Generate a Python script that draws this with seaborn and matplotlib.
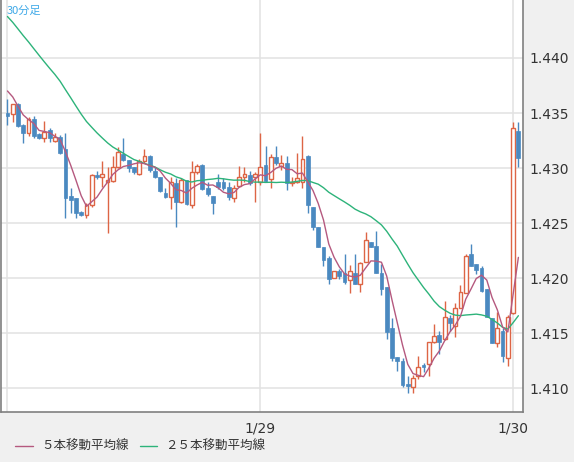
import numpy as np
import pandas as pd
import matplotlib
matplotlib.use("Agg")
import matplotlib.pyplot as plt
from matplotlib.lines import Line2D
import seaborn as sns

opens = [1.4350,1.4349,1.4358,1.4339,1.4332,1.4345,1.4331,1.4327,1.4335,1.4325,
         1.4328,1.4317,1.4275,1.4273,1.4260,1.4257,1.4266,1.4294,1.4292,1.4287,
         1.4288,1.4301,1.4313,1.4307,1.4301,1.4295,1.4306,1.4311,1.4297,1.4292,
         1.4277,1.4274,1.4286,1.4269,1.4289,1.4266,1.4296,1.4303,1.4282,1.4275,
         1.4287,1.4287,1.4283,1.4273,1.4284,1.4292,1.4294,1.4292,1.4287,1.4303,
         1.4290,1.4310,1.4302,1.4305,1.4286,1.4287,1.4287,1.4311,1.4265,1.4246,
         1.4228,1.4218,1.4200,1.4206,1.4205,1.4198,1.4205,1.4195,1.4215,1.4233,
         1.4229,1.4205,1.4192,1.4155,1.4128,1.4125,1.4104,1.4101,1.4111,1.4121,
         1.4122,1.4142,1.4148,1.4145,1.4164,1.4156,1.4173,1.4186,1.4222,1.4213,
         1.4209,1.4190,1.4164,1.4141,1.4152,1.4127,1.4168,1.4334]
highs = [1.4363,1.4358,1.4359,1.4340,1.4346,1.4347,1.4332,1.4343,1.4336,1.4332,
         1.4330,1.4332,1.4282,1.4273,1.4261,1.4268,1.4295,1.4297,1.4306,1.4301,
         1.4311,1.4319,1.4327,1.4307,1.4301,1.4308,1.4317,1.4312,1.4301,1.4292,
         1.4282,1.4292,1.4291,1.4291,1.4289,1.4306,1.4304,1.4304,1.4287,1.4275,
         1.4295,1.4291,1.4287,1.4285,1.4302,1.4301,1.4297,1.4296,1.4332,1.4320,
         1.4313,1.4320,1.4312,1.4311,1.4292,1.4314,1.4329,1.4312,1.4265,1.4246,
         1.4228,1.4220,1.4206,1.4208,1.4222,1.4212,1.4222,1.4215,1.4242,1.4233,
         1.4243,1.4213,1.4192,1.4164,1.4128,1.4127,1.4111,1.4112,1.4129,1.4123,
         1.4142,1.4158,1.4152,1.4179,1.4166,1.4177,1.4194,1.4222,1.4231,1.4213,
         1.4211,1.4190,1.4164,1.4169,1.4155,1.4166,1.4342,1.4342]
lows = [1.4339,1.4342,1.4337,1.4323,1.4329,1.4327,1.4326,1.4324,1.4324,1.4324,
        1.4313,1.4255,1.4259,1.4255,1.4256,1.4255,1.4265,1.4290,1.4283,1.4241,
        1.4287,1.4300,1.4306,1.4296,1.4295,1.4294,1.4305,1.4296,1.4291,1.4278,
        1.4273,1.4263,1.4246,1.4268,1.4266,1.4264,1.4295,1.4280,1.4275,1.4258,
        1.4281,1.4280,1.4271,1.4269,1.4283,1.4287,1.4285,1.4269,1.4285,1.4287,
        1.4282,1.4303,1.4298,1.4280,1.4284,1.4286,1.4282,1.4259,1.4244,1.4228,
        1.4211,1.4195,1.4200,1.4199,1.4195,1.4186,1.4195,1.4187,1.4215,1.4228,
        1.4205,1.4185,1.4145,1.4125,1.4116,1.4101,1.4096,1.4096,1.4108,1.4115,
        1.4111,1.4141,1.4131,1.4144,1.4152,1.4146,1.4173,1.4186,1.4211,1.4204,
        1.4187,1.4165,1.4141,1.4137,1.4124,1.4120,1.4167,1.4301]
closes = [1.4347,1.4358,1.4338,1.4332,1.4345,1.4329,1.4327,1.4333,1.4327,1.4328,
          1.4314,1.4273,1.4271,1.4259,1.4257,1.4266,1.4294,1.4292,1.4295,1.4289,
          1.4301,1.4315,1.4307,1.4300,1.4296,1.4306,1.4311,1.4298,1.4292,1.4279,
          1.4274,1.4287,1.4269,1.4289,1.4267,1.4296,1.4302,1.4281,1.4276,1.4268,
          1.4283,1.4282,1.4274,1.4282,1.4292,1.4295,1.4286,1.4295,1.4301,1.4288,
          1.4310,1.4305,1.4305,1.4286,1.4287,1.4291,1.4308,1.4266,1.4246,1.4228,
          1.4216,1.4199,1.4206,1.4202,1.4196,1.4206,1.4195,1.4214,1.4235,1.4228,
          1.4205,1.4190,1.4151,1.4127,1.4125,1.4103,1.4102,1.4109,1.4119,1.4119,
          1.4142,1.4147,1.4142,1.4165,1.4159,1.4173,1.4187,1.4220,1.4211,1.4207,
          1.4188,1.4165,1.4141,1.4155,1.4129,1.4165,1.4336,1.4309]
# closes before the visible window (used only for the moving averages)
prior_closes = [1.4490,1.4488,1.4484,1.4488,1.4482,1.4478,1.4482,1.4472,1.4468,1.4470,
                1.4462,1.4455,1.4448,1.4442,1.4433,1.4425,1.4420,1.4410,1.4400,1.4395,
                1.4385,1.4380,1.4372,1.4366]
tick_pos = [0, 48, 96]
tick_labels = ["", "1/29", "1/30"]
yticks = [1.410, 1.415, 1.420, 1.425, 1.430, 1.435, 1.440]

allc = pd.Series(prior_closes + closes)
n0 = len(prior_closes)
ma5 = allc.rolling(5).mean().iloc[n0:].to_numpy()
ma25 = allc.rolling(25).mean().iloc[n0:].to_numpy()
idx = np.arange(len(closes))
df = pd.DataFrame({"i": idx, "o": opens, "h": highs, "l": lows, "c": closes,
                   "ma5": ma5, "ma25": ma25})

sns.set_style("white")
plt.rcParams['font.family'] = ['DejaVu Sans']
fig = plt.figure(figsize=(5.74, 4.62), dpi=100, facecolor="#f0f0f0")
ax = fig.add_axes([0.002, 0.108, 0.909, 0.892])
ax.set_facecolor("white")

RED = "#dd6545"
BLUE = "#4a89c0"
up = df[df.c >= df.o]
dn = df[df.c < df.o]
ax.vlines(up.i, up.l, up.h, color=RED, lw=1, zorder=3)
ax.vlines(dn.i, dn.l, dn.h, color=BLUE, lw=1, zorder=3)
ax.bar(up.i, (up.c - up.o).clip(lower=0.00004), bottom=up.o, width=0.72,
       facecolor="white", edgecolor=RED, lw=1, zorder=4)
ax.bar(dn.i, (dn.o - dn.c), bottom=dn.c, width=0.72,
       facecolor=BLUE, edgecolor=BLUE, lw=0.5, zorder=4)

sns.lineplot(data=df, x="i", y="ma25", ax=ax, color="#2db37a", lw=1, zorder=5)
sns.lineplot(data=df, x="i", y="ma5", ax=ax, color="#b5597f", lw=1, zorder=6)

ax.set_xlim(-1.2, 97.86)
ax.set_ylim(1.40782, 1.44527)
ax.set_xticks(tick_pos)
ax.set_xticklabels(tick_labels)
ax.set_yticks(yticks)
ax.set_yticklabels([f"{v:.3f}" for v in yticks])
ax.yaxis.tick_right()
ax.tick_params(axis="both", length=0, labelsize=10, colors="#333333", pad=5)
ax.tick_params(axis="x", pad=7)
ax.grid(True, color="#e2e2e2", lw=1.1)
ax.set_axisbelow(True)
ax.set_xlabel("")
ax.set_ylabel("")
for s in ["left", "right", "bottom"]:
    ax.spines[s].set_visible(True)
    ax.spines[s].set_color("#808080")
    ax.spines[s].set_linewidth(1.2)
ax.spines["top"].set_visible(False)

ax.text(0.01, 0.985, "30分足", transform=ax.transAxes, ha="left", va="top",
        fontsize=8, color="#3fa9e8", family=["Noto Sans CJK JP", "DejaVu Sans"])

fig.add_artist(Line2D([15/574, 33/574], [1-446/462]*2, color="#b5597f", lw=1))
fig.add_artist(Line2D([140/574, 157/574], [1-446/462]*2, color="#2db37a", lw=1))
fig.text(41/574, 1-446/462, "５本移動平均線", va="center", ha="left", fontsize=9,
         color="#333333", family=["Noto Sans CJK JP", "DejaVu Sans"])
fig.text(165/574, 1-446/462, "２５本移動平均線", va="center", ha="left", fontsize=9,
         color="#333333", family=["Noto Sans CJK JP", "DejaVu Sans"])

fig.savefig("out.png", dpi=100, facecolor=fig.get_facecolor())
